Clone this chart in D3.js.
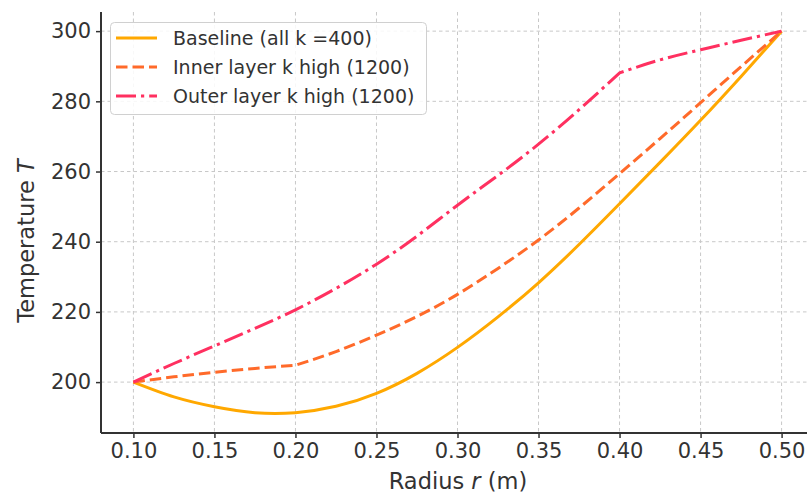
<!DOCTYPE html>
<html>
<head>
<meta charset="utf-8">
<script src="https://cdn.jsdelivr.net/npm/d3@7/dist/d3.min.js"></script>
<style>
  html, body { margin: 0; padding: 0; background: #fff; }
  svg { display: block; }
  text { font-family: "DejaVu Sans", sans-serif; fill: #333; }
</style>
</head>
<body>
<svg id="chart" width="807" height="493"></svg>
<script>
// ---- data ----
const radius = [0.100, 0.125, 0.150, 0.175, 0.200, 0.225, 0.250, 0.275, 0.300, 0.325, 0.350, 0.375, 0.400, 0.425, 0.450, 0.475, 0.500];
const baseline = [200, 195.8, 193.0, 191.3, 191.3, 193.1, 196.8, 202.5, 209.9, 218.6, 228.3, 239.2, 250.8, 262.6, 274.6, 287.1, 300];
const innerHigh = [200, 201.5, 202.8, 203.9, 204.8, 208.7, 213.4, 218.7, 225.0, 232.4, 240.5, 249.6, 259.4, 269.4, 279.6, 289.9, 300];
const outerHigh = [200, 205.3, 210.3, 215.3, 220.6, 226.7, 233.6, 241.6, 250.4, 258.9, 267.8, 277.6, 288.1, 291.8, 294.7, 297.4, 300];
const xTicks = [0.10, 0.15, 0.20, 0.25, 0.30, 0.35, 0.40, 0.45, 0.50];
const yTicks = [200, 220, 240, 260, 280, 300];
const seriesNames = ["Baseline (all k =400)", "Inner layer k high (1200)", "Outer layer k high (1200)"];
const seriesColors = ["#ffa800", "#ff6a2a", "#ff3060"];
const seriesDash = [null, "11.5,5", "20,5,3.2,5"];
const seriesBreaks = [[], [4], [12]]; // indices of kinks (layer interfaces)
const seriesValues = [baseline, innerHigh, outerHigh];

// ---- layout ----
const svg = d3.select("#chart");
const L = 101, R = 814, T = 12, B = 433;
const x = d3.scaleLinear().domain([0.08, 0.52]).range([L, R]);
const y = d3.scaleLinear().domain([185.5, 305.45]).range([B, T]);

// grid
const grid = svg.append("g");
grid.selectAll(".gx").data(xTicks).enter().append("line")
  .attr("x1", d => x(d)).attr("x2", d => x(d)).attr("y1", T).attr("y2", B)
  .attr("stroke", "#c8c8c8").attr("stroke-width", 1).attr("stroke-dasharray", "3.5,3");
grid.selectAll(".gy").data(yTicks).enter().append("line")
  .attr("y1", d => y(d)).attr("y2", d => y(d)).attr("x1", L).attr("x2", R)
  .attr("stroke", "#c8c8c8").attr("stroke-width", 1).attr("stroke-dasharray", "3.5,3");

// lines
function pathFor(vals, breaks) {
  const pts = radius.map((r, i) => [r, vals[i]]);
  const idx = [0, ...breaks, pts.length - 1];
  const gen = d3.line().x(d => x(d[0])).y(d => y(d[1])).curve(d3.curveNatural);
  let out = "";
  for (let s = 0; s < idx.length - 1; s++) {
    const seg = pts.slice(idx[s], idx[s + 1] + 1);
    let p = gen(seg);
    if (s > 0) p = "L" + p.slice(1);
    out += p;
  }
  return out;
}
seriesValues.forEach((vals, i) => {
  svg.append("path")
    .attr("d", pathFor(vals, seriesBreaks[i]))
    .attr("fill", "none")
    .attr("stroke", seriesColors[i])
    .attr("stroke-width", 3)
    .attr("stroke-dasharray", seriesDash[i])
    .attr("stroke-linejoin", "round");
});

// axes
const xAxis = svg.append("g").attr("transform", `translate(0,${B})`)
  .call(d3.axisBottom(x).tickValues(xTicks).tickFormat(d3.format(".2f")).tickSize(5).tickPadding(5));
const yAxis = svg.append("g").attr("transform", `translate(${L},0)`)
  .call(d3.axisLeft(y).tickValues(yTicks).tickFormat(d3.format("d")).tickSize(5).tickPadding(5));
[xAxis, yAxis].forEach(g => {
  g.select(".domain").attr("stroke", "#333").attr("stroke-width", 2);
  g.selectAll(".tick line").attr("stroke", "#333").attr("stroke-width", 1.5);
  g.selectAll(".tick text").attr("fill", "#333").style("font-size", "21px").style("font-family", "DejaVu Sans");
});
yAxis.select(".domain").attr("d", `M0,${T}V${B}`);
xAxis.select(".domain").attr("d", `M${L},0H${R}`);

// axis labels
const xl = svg.append("text").attr("x", 458).attr("y", 489).attr("text-anchor", "middle").style("font-size", "22.5px");
xl.append("tspan").text("Radius ");
xl.append("tspan").style("font-style", "italic").text("r");
xl.append("tspan").text(" (m)");
const yl = svg.append("text").attr("transform", "translate(34,241) rotate(-90)").attr("text-anchor", "middle").style("font-size", "22.5px");
yl.append("tspan").text("Temperature ");
yl.append("tspan").style("font-style", "italic").text("T");

// legend
const lg = svg.append("g");
lg.append("rect").attr("x", 110.5).attr("y", 22.5).attr("width", 316).attr("height", 92).attr("rx", 4)
  .attr("fill", "#fff").attr("fill-opacity", 0.85).attr("stroke", "#d0d0d0").attr("stroke-width", 1);
const rowsY = [38, 67, 96];
seriesNames.forEach((name, i) => {
  lg.append("line").attr("x1", 116).attr("x2", 157).attr("y1", rowsY[i]).attr("y2", rowsY[i])
    .attr("stroke", seriesColors[i]).attr("stroke-width", 3).attr("stroke-dasharray", seriesDash[i]);
  lg.append("text").attr("x", 173).attr("y", rowsY[i]).attr("dy", "0.35em").style("font-size", "19px").text(name);
});
</script>
</body>
</html>
